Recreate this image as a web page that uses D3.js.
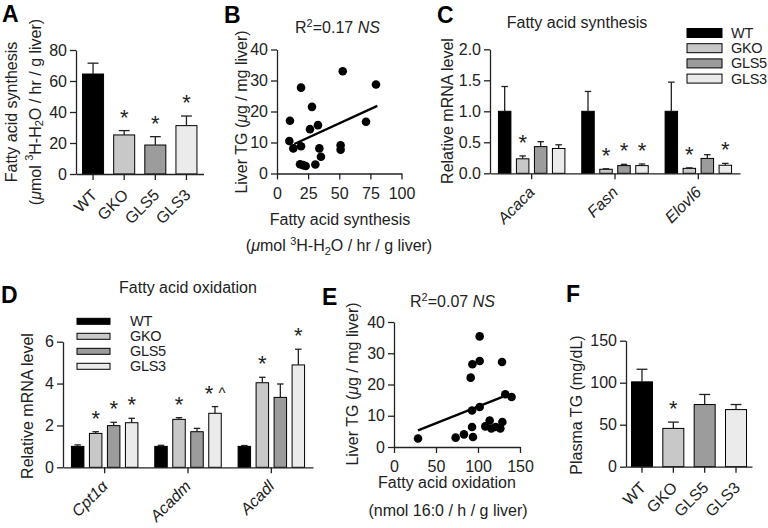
<!DOCTYPE html>
<html><head><meta charset="utf-8">
<script src="https://cdn.jsdelivr.net/npm/d3@7"></script>
<style>
body{margin:0;background:#fff;}
svg{display:block;font-family:"Liberation Sans",Arial,sans-serif;}
</style></head><body>
<svg id="c" width="768" height="528"></svg>
<script>
// ---------- DATA ----------
const groups = ["WT", "GKO", "GLS5", "GLS3"];
const groupColors = ["#000000", "#c8c8c8", "#9c9c9c", "#ebebeb"];

// Panel A: fatty acid synthesis
const aMean = [64.5, 25.2, 18.7, 31.2];
const aErr = [7.0, 2.8, 5.4, 6.2];
const aMarks = ["", "*", "*", "*"];
const aTicks = [0, 20, 40, 60, 80];

// Panel B: scatter
const bX = [10.4, 9.9, 13.1, 19.3, 19.3, 18.5, 21.0, 23.0, 28.1, 26.5, 32.9, 34.0, 35.3, 30.8, 52.8, 51.1, 51.1, 71.5, 79.5];
const bY = [17.0, 10.5, 8.1, 27.7, 8.8, 3.0, 2.7, 2.4, 21.5, 14.3, 15.6, 8.1, 5.4, 2.9, 33.0, 9.1, 7.7, 16.7, 28.7];
const bFitX = [13.9, 80.6];
const bFitY = [9.5, 21.8];
const bXTicks = [0, 25, 50, 75, 100];
const bYTicks = [0, 10, 20, 30, 40];

// Panel C: fatty acid synthesis genes
const cGenes = ["Acaca", "Fasn", "Elovl6"];
const cWT = [1.0, 1.0, 1.0],        cWTErr = [0.40, 0.32, 0.47];
const cGKO = [0.234, 0.065, 0.08],  cGKOErr = [0.046, 0.008, 0.008];
const cGLS5 = [0.43, 0.124, 0.24],  cGLS5Err = [0.08, 0.021, 0.06];
const cGLS3 = [0.40, 0.124, 0.13],  cGLS3Err = [0.06, 0.026, 0.03];
const cMarksWT = ["", "", ""], cMarksGKO = ["*", "*", "*"], cMarksGLS5 = ["", "*", ""], cMarksGLS3 = ["", "*", "*"];
const cTicks = [0, 0.5, 1.0, 1.5, 2.0];

// Panel D: fatty acid oxidation genes
const dGenes = ["Cpt1α", "Acadm", "Acadl"];
const dWT = [1.0, 1.0, 1.0],        dWTErr = [0.07, 0.05, 0.04];
const dGKO = [1.62, 2.29, 4.04],    dGKOErr = [0.08, 0.08, 0.26];
const dGLS5 = [1.99, 1.70, 3.34],   dGLS5Err = [0.16, 0.16, 0.64];
const dGLS3 = [2.13, 2.58, 4.89],   dGLS3Err = [0.21, 0.32, 0.75];
const dMarksWT = ["", "", ""], dMarksGKO = ["*", "*", "*"], dMarksGLS5 = ["*", "", ""], dMarksGLS3 = ["*", "*^", "*"];
const dTicks = [0, 2, 4, 6];

// Panel E: scatter
const eX = [28.6, 73.4, 83.3, 94.0, 92.9, 92.9, 91.3, 93.3, 102, 102, 102, 108.7, 113.9, 115.9, 121, 126.6, 129, 128.6, 132.5, 140];
const eY = [2.7, 3.0, 4.05, 3.2, 6.4, 11.7, 22.2, 26.5, 27.5, 35.4, 12.8, 6.6, 8.5, 5.9, 6.4, 5.9, 8.0, 27.2, 16.9, 16.0];
const eFitX = [28.6, 133.7];
const eFitY = [5.3, 16.5];
const eXTicks = [0, 50, 100, 150];
const eYTicks = [0, 10, 20, 30, 40];

// Panel F: plasma TG
const fMean = [101, 45.6, 74, 68];
const fErr = [15, 7.5, 12, 6];
const fMarks = ["", "*", "", ""];
const fTicks = [0, 50, 100, 150];

// ---------- DRAWING ----------
const svg = d3.select("#c");
const FONT = 16;
const LEG_FONT = 14.5;
const INK = "#222";
const FAMILY = '"Liberation Sans", Arial, sans-serif';

function styleAxis(g) {
  g.attr("font-family", FAMILY).attr("font-size", FONT);
  g.selectAll(".domain, .tick line").attr("stroke", INK).attr("stroke-width", 1.3);
  g.selectAll(".tick text").attr("fill", INK);
}

function rich(sel, parts) {
  let shift = 0;
  parts.forEach(p => {
    const t = typeof p === "string" ? p : p[0];
    const s = typeof p === "string" ? "" : p[1];
    const ts = sel.append("tspan").text(t);
    let target = 0;
    if (s === "sup") { target = -6; ts.attr("font-size", 11); }
    if (s === "sub") { target = 4; ts.attr("font-size", 11); }
    if (s === "i") ts.attr("font-style", "italic");
    if (target !== shift) { ts.attr("dy", target - shift); shift = target; }
  });
}

function ylabel(x, y, parts) {
  const t = svg.append("text")
    .attr("transform", `translate(${x},${y}) rotate(-90)`)
    .attr("text-anchor", "middle").attr("dominant-baseline", "central")
    .attr("font-size", FONT).attr("fill", INK);
  rich(t, parts);
  return t;
}

function plainText(x, y, parts, anchor = "middle") {
  const t = svg.append("text").attr("x", x).attr("y", y)
    .attr("text-anchor", anchor).attr("font-size", FONT).attr("fill", INK);
  rich(t, parts);
  return t;
}

function panelLetter(x, y, s) {
  svg.append("text").attr("x", x).attr("y", y).text(s)
    .attr("font-size", 23).attr("font-weight", "bold").attr("fill", "#000");
}

function drawMark(cx, yTop, m) {
  if (!m) return;
  if (m === "*^") {
    svg.append("text").attr("x", cx - 6).attr("y", yTop + 1).attr("text-anchor", "middle")
      .attr("font-size", 22).attr("fill", INK).text("*");
    svg.append("text").attr("x", cx + 7).attr("y", yTop - 2).attr("text-anchor", "middle")
      .attr("font-size", 15).attr("fill", INK).text("^");
  } else {
    svg.append("text").attr("x", cx).attr("y", yTop + 1).attr("text-anchor", "middle")
      .attr("font-size", 22).attr("fill", INK).text(m);
  }
}

function drawBar(x0, w, y, v, e, color, mark) {
  svg.append("rect").attr("x", x0).attr("y", y(v)).attr("width", w).attr("height", y(0) - y(v))
    .attr("fill", color).attr("stroke", "#000").attr("stroke-width", 1);
  const cx = x0 + w / 2, top = y(v + e), cw = w * 0.26;
  svg.append("line").attr("x1", cx).attr("x2", cx).attr("y1", y(v)).attr("y2", top)
    .attr("stroke", INK).attr("stroke-width", 1.3);
  svg.append("line").attr("x1", cx - cw).attr("x2", cx + cw).attr("y1", top).attr("y2", top)
    .attr("stroke", INK).attr("stroke-width", 1.3);
  drawMark(cx, top - 7, mark);
}

function simpleBars(o) {
  const x = d3.scaleBand().domain(groups).range(o.xRange).paddingInner(o.pi).paddingOuter(o.po);
  const y = d3.scaleLinear().domain(o.yDomain).range(o.yRange);
  groups.forEach((g, i) => drawBar(x(g), x.bandwidth(), y, o.means[i], o.errs[i], groupColors[i], o.marks[i]));
  styleAxis(svg.append("g").attr("transform", `translate(${o.xRange[0]},0)`)
    .call(d3.axisLeft(y).tickValues(o.ticks).tickSize(6).tickSizeOuter(0).tickPadding(3)));
  styleAxis(svg.append("g").attr("transform", `translate(0,${o.yRange[0]})`)
    .call(d3.axisBottom(x).tickSize(6).tickSizeOuter(0).tickFormat("")));
  groups.forEach(g => {
    svg.append("text").attr("text-anchor", "end")
      .attr("transform", `translate(${x(g) + x.bandwidth() / 2 + o.ldx},${o.yRange[0] + o.ldy}) rotate(-45)`)
      .attr("font-size", FONT).attr("fill", INK).text(g);
  });
}

function groupedBars(o) {
  const x0 = d3.scaleBand().domain(o.genes).range(o.xRange).padding(0);
  const x1 = d3.scaleBand().domain(groups).range([0, x0.bandwidth()]).paddingInner(0.306).paddingOuter(0.468);
  const y = d3.scaleLinear().domain(o.yDomain).range(o.yRange);
  o.genes.forEach((gene, j) => {
    groups.forEach((g, i) => {
      drawBar(x0(gene) + x1(g), x1.bandwidth(), y, o.series[i][j], o.errs[i][j], groupColors[i], o.marks[i][j]);
    });
  });
  styleAxis(svg.append("g").attr("transform", `translate(${o.xRange[0]},0)`)
    .call(d3.axisLeft(y).tickValues(o.ticks).tickSize(6).tickSizeOuter(0).tickPadding(3).tickFormat(o.fmt)));
  styleAxis(svg.append("g").attr("transform", `translate(0,${o.yRange[0]})`)
    .call(d3.axisBottom(x0).tickSize(6).tickSizeOuter(0).tickFormat("")));
  o.genes.forEach(gene => {
    svg.append("text").attr("text-anchor", "end")
      .attr("transform", `translate(${x0(gene) + x0.bandwidth() / 2 + o.ldx},${o.yRange[0] + o.ldy}) rotate(-45)`)
      .attr("font-size", FONT).attr("font-style", "italic").attr("fill", INK).text(gene);
  });
}

function legend(x, y0, step, w, h, lx) {
  groups.forEach((g, i) => {
    const yy = y0 + i * step;
    svg.append("rect").attr("x", x).attr("y", yy - h / 2).attr("width", w).attr("height", h)
      .attr("fill", groupColors[i]).attr("stroke", "#000").attr("stroke-width", 1);
    svg.append("text").attr("x", lx).attr("y", yy + 5)
      .attr("font-size", LEG_FONT).attr("letter-spacing", -0.3).attr("fill", INK).text(g);
  });
}

function scatter(o) {
  const x = d3.scaleLinear().domain(o.xDomain).range(o.xRange);
  const y = d3.scaleLinear().domain(o.yDomain).range(o.yRange);
  styleAxis(svg.append("g").attr("transform", `translate(${o.xRange[0]},0)`)
    .call(d3.axisLeft(y).tickValues(o.yTicks).tickSize(6).tickSizeOuter(0).tickPadding(3)));
  styleAxis(svg.append("g").attr("transform", `translate(0,${o.yRange[0]})`)
    .call(d3.axisBottom(x).tickValues(o.xTicks).tickSize(6).tickSizeOuter(0).tickPadding(8)));
  svg.append("line").attr("x1", x(o.fitX[0])).attr("y1", y(o.fitY[0]))
    .attr("x2", x(o.fitX[1])).attr("y2", y(o.fitY[1]))
    .attr("stroke", "#000").attr("stroke-width", 2.3);
  o.xs.forEach((v, i) => {
    svg.append("circle").attr("cx", x(v)).attr("cy", y(o.ys[i])).attr("r", 4.3).attr("fill", "#000");
  });
}

// Panel A
panelLetter(2, 22, "A");
simpleBars({ means: aMean, errs: aErr, marks: aMarks, ticks: aTicks, yDomain: [0, 80], yRange: [174, 50],
  xRange: [76, 203.5], pi: 0.325, po: 0.21, ldx: 5, ldy: 22 });
ylabel(11, 112, ["Fatty acid synthesis"]);
ylabel(35, 112, ["(", ["μ", "i"], "mol ", ["3", "sup"], "H-H", ["2", "sub"], "O / hr / g liver)"]);

// Panel B
panelLetter(224, 23, "B");
scatter({ xs: bX, ys: bY, fitX: bFitX, fitY: bFitY, xDomain: [0, 100], xRange: [277, 401.5],
  yDomain: [0, 40], yRange: [173.5, 49.5], xTicks: bXTicks, yTicks: bYTicks });
plainText(295, 33, ["R", ["2", "sup"], "=0.17  ", ["NS", "i"]], "start");
ylabel(241, 112, ["Liver TG (", ["μ", "i"], "g / mg liver)"]);
plainText(340, 225, ["Fatty acid synthesis"]);
plainText(339, 251, ["(", ["μ", "i"], "mol ", ["3", "sup"], "H-H", ["2", "sub"], "O / hr / g liver)"]);

// Panel C
panelLetter(437, 23, "C");
groupedBars({ genes: cGenes, series: [cWT, cGKO, cGLS5, cGLS3], errs: [cWTErr, cGKOErr, cGLS5Err, cGLS3Err],
  marks: [cMarksWT, cMarksGKO, cMarksGLS5, cMarksGLS3], yDomain: [0, 2], yRange: [173.3, 49.3],
  ticks: cTicks, fmt: d3.format(".1f"), xRange: [490, 740], ldx: 4, ldy: 20 });
plainText(577, 28, ["Fatty acid synthesis"]);
ylabel(447, 111, ["Relative mRNA level"]);
legend(687, 33, 15.2, 35, 9, 731);

// Panel D
panelLetter(1, 303, "D");
groupedBars({ genes: dGenes, series: [dWT, dGKO, dGLS5, dGLS3], errs: [dWTErr, dGKOErr, dGLS5Err, dGLS3Err],
  marks: [dMarksWT, dMarksGKO, dMarksGLS5, dMarksGLS3], yDomain: [0, 6], yRange: [467.3, 341.7],
  ticks: dTicks, fmt: d3.format("d"), xRange: [63, 313], ldx: 4, ldy: 20 });
plainText(188, 293, ["Fatty acid oxidation"]);
ylabel(27, 406, ["Relative mRNA level"]);
legend(77, 321.3, 15, 33, 6, 130);

// Panel E
panelLetter(322, 305, "E");
scatter({ xs: eX, ys: eY, fitX: eFitX, fitY: eFitY, xDomain: [0, 150], xRange: [394, 520],
  yDomain: [0, 40], yRange: [447, 322], xTicks: eXTicks, yTicks: eYTicks });
plainText(410, 307, ["R", ["2", "sup"], "=0.07  ", ["NS", "i"]], "start");
ylabel(352, 384, ["Liver TG (", ["μ", "i"], "g / mg liver)"]);
plainText(447, 488, ["Fatty acid oxidation"]);
plainText(448, 516, ["(nmol 16:0 / h / g liver)"]);

// Panel F
panelLetter(566, 302, "F");
simpleBars({ means: fMean, errs: fErr, marks: fMarks, ticks: fTicks, yDomain: [0, 150], yRange: [466.7, 340.7],
  xRange: [626, 752], pi: 0.33, po: 0.175, ldx: 5, ldy: 22 });
ylabel(576, 405, ["Plasma TG (mg/dL)"]);
</script>
</body></html>
